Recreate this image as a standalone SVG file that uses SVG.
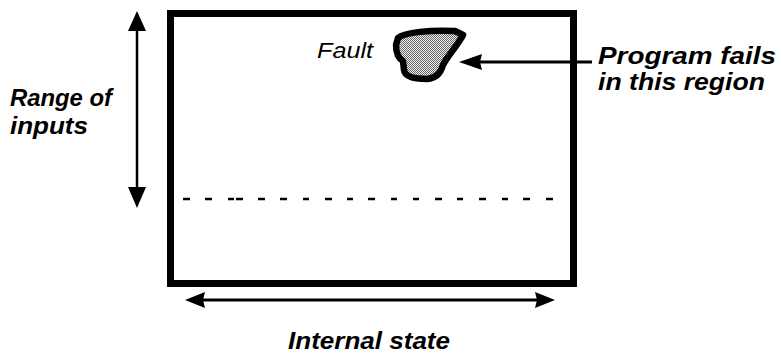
<svg xmlns="http://www.w3.org/2000/svg" width="781" height="353" viewBox="0 0 781 353">
<style>
.lbl{font-family:"Liberation Sans",Arial,sans-serif;font-style:italic;font-weight:bold;font-size:23px;fill:#000}
.flt{font-family:"Liberation Sans",Arial,sans-serif;font-style:italic;font-size:22px;fill:#000}
.ln{stroke:#000;fill:none}
.head{fill:#000;stroke:none}
</style>
<defs>
<pattern id="stip" width="2" height="2" patternUnits="userSpaceOnUse">
<rect width="2" height="2" fill="#f0f0f0"/>
<rect width="1" height="1" fill="#666"/>
<rect x="1" y="1" width="1" height="1" fill="#666"/>
</pattern>
</defs>
<g id="space">
<rect x="170.5" y="13.5" width="403" height="270" fill="#fff" stroke="#000" stroke-width="7"/>
<path class="ln" stroke-width="2.5" d="M183,199h7M205,199h7M228,199h6M236,199h7M258,199h7M280,199h7M303,199h6M325,199h7M347,199h6M368,199h7M391,199h6M413,199h6M435,199h7M457,199h6M479,199h7M502,199h6M523,199h7M546,199h7"/>
</g>
<g id="fault">
<path d="M398,38 C405,32 430,30 455,31 L463,35 C458,45 448,55 443,65 C440,75 435,78 427,79 C415,79 405,77 404,70 L403,61 C398,58 396,52 396,45 Z" fill="url(#stip)" stroke="#000" stroke-width="6.5" stroke-linejoin="round"/>
<text class="flt" x="317" y="58" textLength="56" lengthAdjust="spacingAndGlyphs">Fault</text>
</g>
<g id="program-fails">
<text class="lbl" x="598" y="64" textLength="178" lengthAdjust="spacingAndGlyphs">Program fails</text>
<text class="lbl" x="598" y="90" textLength="167" lengthAdjust="spacingAndGlyphs">in this region</text>
</g>
<g id="range-of-inputs">
<text class="lbl" x="10" y="106" textLength="102" lengthAdjust="spacingAndGlyphs">Range of</text>
<text class="lbl" x="10" y="134" textLength="78" lengthAdjust="spacingAndGlyphs">inputs</text>
</g>
<g id="internal-state">
<text class="lbl" x="288" y="349" textLength="162" lengthAdjust="spacingAndGlyphs">Internal  state</text>
</g>
<g id="connectors">
<line class="ln" stroke-width="2.5" x1="137" y1="26" x2="137" y2="192"/>
<polygon class="head" points="137,11 146,31 128,31"/>
<polygon class="head" points="137,208 128,187 146,187"/>
<line class="ln" stroke-width="3" x1="198" y1="300" x2="542" y2="300"/>
<polygon class="head" points="185,300 205,292 203,300 205,308"/>
<polygon class="head" points="555,300 535,292 537,300 535,308"/>
<line class="ln" stroke-width="3" x1="475" y1="62" x2="592" y2="62"/>
<polygon class="head" points="459,62 482,54 480,62 482,70"/>
</g>
</svg>
